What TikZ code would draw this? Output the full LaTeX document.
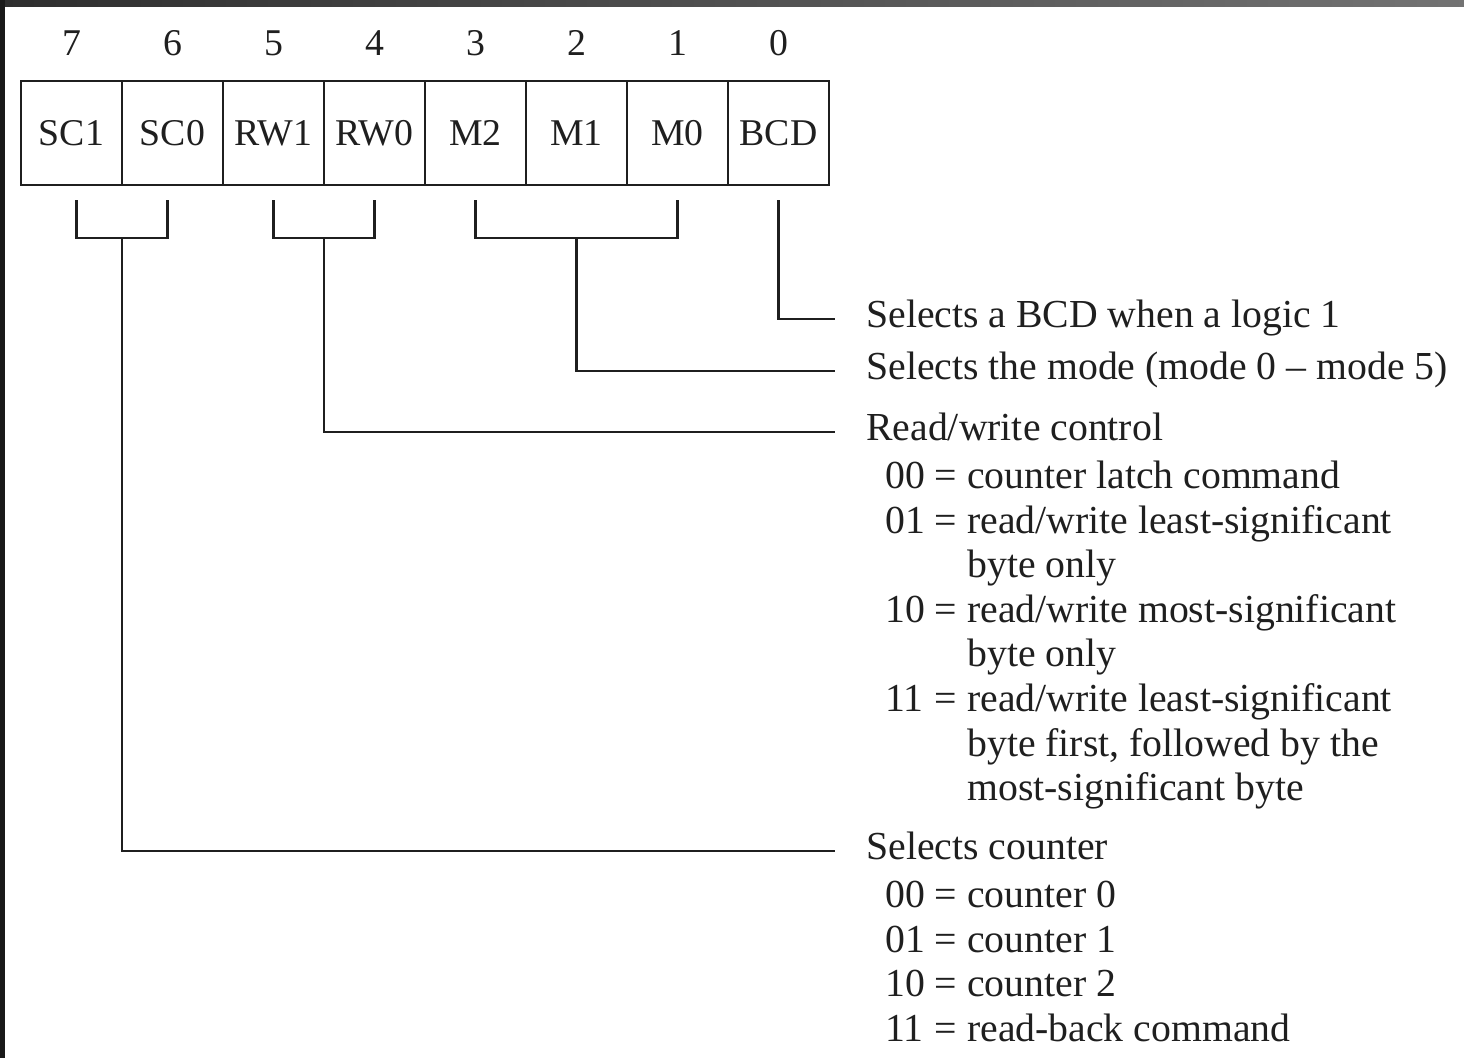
\documentclass[tikz,border=0pt]{standalone}
\usepackage{fontspec}
\setmainfont{Liberation Serif}
\usepackage{tikz}
\usetikzlibrary{positioning}
\usetikzlibrary{calc}
\newcommand{\regfont}{\fontsize{21.5}{25.35}\selectfont}
\newcommand{\descfont}{\fontsize{22.6}{25.35}\selectfont}
\tikzset{%
  bitcell/.style = {rectangle,draw,line width=1.6pt,outer sep=0pt,
        minimum width=2.02cm,minimum height=2.08cm,inner sep=0pt,font=\regfont},
  bitnum/.style = {inner sep=0pt,font=\regfont},
  desctitle/.style = {anchor=west,inner sep=0pt,font=\descfont,
        text height=17.7pt,text depth=7.6pt},
  desclist/.style = {inner sep=0pt,font=\descfont},
  link/.style = {line width=1.5pt,shorten >=0.62cm},
  brace/.style = {line width=1.5pt}
}

\begin{document}
\begin{tikzpicture}[color=black!88]
  % frame of the scan
  \useasboundingbox (0,0) rectangle (29.28,-21.16);
  \fill[white] (0,0) rectangle (29.28,-21.16);
  \shade[left color=black!82,right color=black!55] (0,0) rectangle (29.28,-0.14);
  \fill[black!90] (0,0) rectangle (0.1,-21.16);

  % control word register
  \node[bitcell] (b7) at (1.43,-2.66) {SC1};
  \node[bitcell, right=0pt of b7] (b6) {SC0};
  \node[bitcell, right=0pt of b6] (b5) {RW1};
  \node[bitcell, right=0pt of b5] (b4) {RW0};
  \node[bitcell, right=0pt of b4] (b3) {M2};
  \node[bitcell, right=0pt of b3] (b2) {M1};
  \node[bitcell, right=0pt of b2] (b1) {M0};
  \node[bitcell, right=0pt of b1] (b0) {BCD};

  \foreach \i in {0,...,7}
    \node[bitnum, above=0.5cm of b\i] (n\i) {\i};

  % descriptions
  \node[desctitle] (bcdtitle) at (17.32,-6.38) {Selects a BCD when a logic 1};
  \node[desctitle] (modetitle) at (17.32,-7.42) {Selects the mode (mode 0 -- mode 5)};
  \node[desctitle] (rwtitle) at (17.32,-8.64) {Read/write control};
  \node[desclist, below=1.5pt of rwtitle.south west, anchor=north west] (rwlist) {%
    \begin{tabular}{@{\hspace{0.38cm}}l@{\ }c@{\ }l@{}}
      00 & = & counter latch command\\
      01 & = & read/write least-significant\\
         &   & byte only\\
      10 & = & read/write most-significant\\
         &   & byte only\\
      11 & = & read/write least-significant\\
         &   & byte first, followed by the\\
         &   & most-significant byte
    \end{tabular}};
  \node[desctitle] (sctitle) at (17.32,-17.02) {Selects counter};
  \node[desclist, below=1.5pt of sctitle.south west, anchor=north west] (sclist) {%
    \begin{tabular}{@{\hspace{0.38cm}}l@{\ }c@{\ }l@{}}
      00 & = & counter 0\\
      01 & = & counter 1\\
      10 & = & counter 2\\
      11 & = & read-back command
    \end{tabular}};

  % bracket tips under the cells
  \foreach \i in {0,...,7}
    \coordinate (t\i) at ([yshift=-0.3cm]b\i.south);

  \draw[brace] ([xshift=0.1cm]t7) -- ++(0,-0.76) -| ([xshift=-0.1cm]t6);
  \draw[brace] (t5) -- ++(0,-0.76) -| (t4);
  \draw[brace] (t3) -- ++(0,-0.76) -| (t1);
  \coordinate (scjoin) at ($(b7.south east)+(0,-1.06)$);
  \coordinate (rwjoin) at ($(b5.south east)+(0,-1.06)$);
  \coordinate (mjoin) at ($(t2)+(0,-0.76)$);

  \draw[link] (t0) |- (bcdtitle.west);
  \draw[link] (mjoin) |- (modetitle.west);
  \draw[link] (rwjoin) |- (rwtitle.west);
  \draw[link] (scjoin) |- (sctitle.west);
\end{tikzpicture}
\end{document}
